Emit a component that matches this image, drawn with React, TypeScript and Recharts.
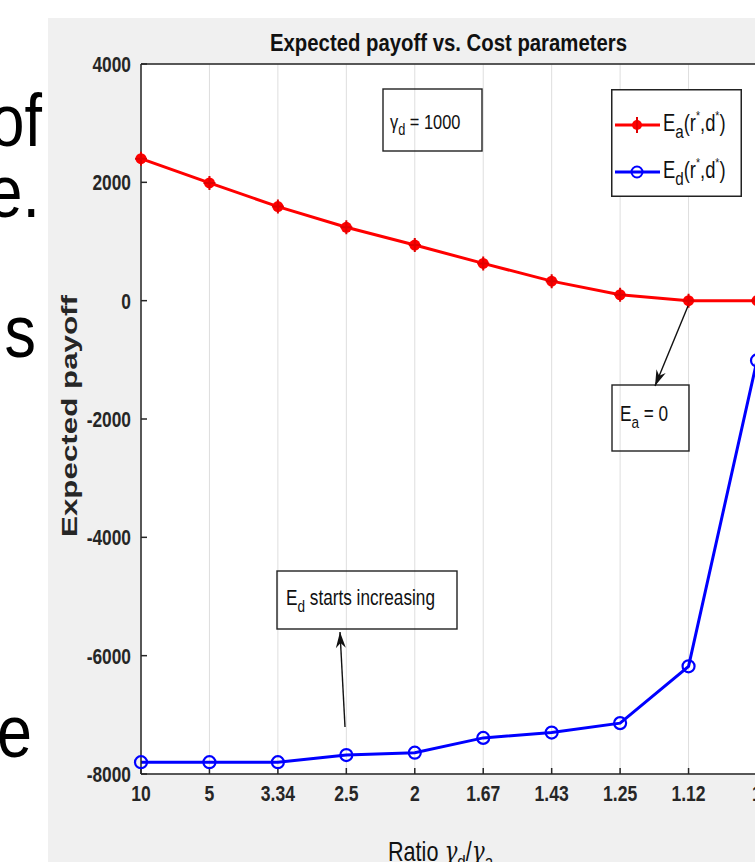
import React from "react";
import {
  LineChart,
  Line,
  XAxis,
  YAxis,
  CartesianGrid,
  Legend,
} from "recharts";

// values
const ratios = ["10", "5", "3.34", "2.5", "2", "1.67", "1.43", "1.25", "1.12", "1"];
const attackerPayoff = [2400, 1990, 1590, 1240, 940, 630, 330, 100, 0, 0];
const defenderPayoff = [-7800, -7800, -7800, -7680, -7640, -7390, -7300, -7140, -6180, -1010];
const yTicks = [-8000, -6000, -4000, -2000, 0, 2000, 4000];

const data = ratios.map((ratio, i) => ({
  ratio,
  ea: attackerPayoff[i],
  ed: defenderPayoff[i],
}));

const FONT = "'Liberation Sans', Arial, sans-serif";
const AXIS = "#262626";

const XTick = ({ x, y, payload }: any) => (
  <g transform={`translate(${x},${y + 27}) scale(0.78,1)`}>
    <text textAnchor="middle" fill={AXIS} fontSize={22.5} fontWeight={700} fontFamily={FONT}>
      {payload.value}
    </text>
  </g>
);

const YTick = ({ x, y, payload }: any) => (
  <g transform={`translate(${x - 10},${y + 8}) scale(0.77,1)`}>
    <text textAnchor="end" fill={AXIS} fontSize={22.5} fontWeight={700} fontFamily={FONT}>
      {payload.value}
    </text>
  </g>
);

const RedDot = ({ cx, cy }: any) => (
  <g>
    <circle cx={cx} cy={cy} r={5.5} fill="#ff0000" />
    <path
      d={`M${cx - 6},${cy} H${cx + 6} M${cx},${cy - 7} V${cy + 7}`}
      stroke="#e00000"
      strokeWidth={2}
    />
  </g>
);

const BlueDot = ({ cx, cy }: any) => (
  <circle cx={cx} cy={cy} r={6} fill="none" stroke="#0000ff" strokeWidth={2.2} />
);

const LegendBox = () => (
  <svg width={131} height={108} style={{ display: "block" }}>
    <rect x={0.75} y={0.75} width={129.5} height={106.5} fill="#fff" stroke="#222" strokeWidth={1.5} />
    <line x1={4} y1={36} x2={49} y2={36} stroke="#ff0000" strokeWidth={3} />
    <circle cx={26} cy={36} r={5} fill="#ff0000" />
    <path d="M26,28 V44" stroke="#e00000" strokeWidth={2} />
    <line x1={4} y1={83} x2={49} y2={83} stroke="#0000ff" strokeWidth={3} />
    <circle cx={26} cy={83} r={5.5} fill="none" stroke="#0000ff" strokeWidth={2} />
    {[
      { y: 42, sub: "a" },
      { y: 89, sub: "d" },
    ].map((e) => (
      <g key={e.sub} transform={`translate(52,${e.y}) scale(0.8,1)`}>
        <text fontFamily={FONT} fontSize={23} fill="#111">
          E<tspan fontSize={19} dy={7}>{e.sub}</tspan>
          <tspan dy={-7}>(r</tspan>
          <tspan fontSize={13} dy={-11}>*</tspan>
          <tspan dy={11}>,d</tspan>
          <tspan fontSize={13} dy={-11}>*</tspan>
          <tspan dy={11}>)</tspan>
        </text>
      </g>
    ))}
  </svg>
);

const arrowHead = (x1: number, y1: number, x2: number, y2: number) => {
  const dx = x2 - x1;
  const dy = y2 - y1;
  const len = Math.hypot(dx, dy);
  const ux = dx / len;
  const uy = dy / len;
  const bx = x2 - ux * 16;
  const by = y2 - uy * 16;
  const px = -uy * 5;
  const py = ux * 5;
  const mx = x2 - ux * 11;
  const my = y2 - uy * 11;
  return `${x2},${y2} ${bx + px},${by + py} ${mx},${my} ${bx - px},${by - py}`;
};

const Arrow = ({ x1, y1, x2, y2 }: { x1: number; y1: number; x2: number; y2: number }) => (
  <g>
    <line x1={x1} y1={y1} x2={x2} y2={y2} stroke="#111" strokeWidth={1.4} />
    <polygon points={arrowHead(x1, y1, x2, y2)} fill="#111" />
  </g>
);

const Overlay = () => (
  <svg
    width={755}
    height={862}
    style={{ position: "absolute", left: 0, top: 0, pointerEvents: "none" }}
  >
    {/* cut-off slide text */}
    {[
      { t: "of", x: 42, y: 146 },
      { t: "e.", x: 40, y: 217 },
      { t: "s", x: 36, y: 357 },
      { t: "e", x: 32, y: 757 },
    ].map((w) => (
      <g key={w.t + w.y} transform={`translate(${w.x},${w.y}) scale(0.85,1)`}>
        <text textAnchor="end" fontFamily={FONT} fontSize={74} fill="#000">
          {w.t}
        </text>
      </g>
    ))}

    <text
      x={270}
      y={51}
      textLength={357}
      lengthAdjust="spacingAndGlyphs"
      fontFamily={FONT}
      fontWeight={700}
      fontSize={23}
      fill="#111"
    >
      Expected payoff vs. Cost parameters
    </text>

    <text
      transform="translate(77,537) rotate(-90)"
      textLength={242}
      lengthAdjust="spacingAndGlyphs"
      fontFamily={FONT}
      fontWeight={700}
      fontSize={22}
      fill={AXIS}
    >
      Expected payoff
    </text>

    <g transform="translate(388,861) scale(0.8,1)">
      <text fontFamily={FONT} fontSize={27} fill="#111">
        Ratio <tspan fontFamily="'DejaVu Serif', serif" fontStyle="italic">γ</tspan>
        <tspan fontSize={19} dy={7}>d</tspan>
        <tspan dy={-7}>/</tspan>
        <tspan fontFamily="'DejaVu Serif', serif" fontStyle="italic">γ</tspan>
        <tspan fontSize={19} dy={7}>a</tspan>
      </text>
    </g>

    {/* gamma_d box */}
    <rect x={383} y={89} width={99} height={62} fill="none" stroke="#222" strokeWidth={1.4} />
    <g transform="translate(390,129) scale(0.8,1)">
      <text fontFamily={FONT} fontSize={20.5} fill="#111">
        γ<tspan fontSize={16} dy={6}>d</tspan>
        <tspan dy={-6}> = 1000</tspan>
      </text>
    </g>

    {/* E_a = 0 box */}
    <rect x={612} y={385} width={77} height={66} fill="none" stroke="#222" strokeWidth={1.4} />
    <g transform="translate(620,421) scale(0.8,1)">
      <text fontFamily={FONT} fontSize={21.5} fill="#111">
        E<tspan fontSize={17} dy={7}>a</tspan>
        <tspan dy={-7}> = 0</tspan>
      </text>
    </g>
    <Arrow x1={688} y1={306} x2={655} y2={386} />

    {/* E_d starts increasing box */}
    <rect x={277} y={571} width={180} height={58} fill="none" stroke="#222" strokeWidth={1.4} />
    <g transform="translate(286,605) scale(0.8,1)">
      <text fontFamily={FONT} fontSize={21.5} fill="#111">
        E<tspan fontSize={17} dy={7}>d</tspan>
        <tspan dy={-7}> starts increasing</tspan>
      </text>
    </g>
    <Arrow x1={345} y1={727} x2={340} y2={632} />
  </svg>
);

export default function App() {
  return (
    <div
      style={{
        position: "fixed",
        left: 0,
        top: 0,
        width: 755,
        height: 862,
        overflow: "hidden",
        background: "#ffffff",
      }}
    >
      <div
        style={{
          position: "absolute",
          left: 48,
          top: 18,
          right: 0,
          bottom: 0,
          background: "#f0f0f0",
        }}
      />
      <div style={{ position: "absolute", left: 0, top: 0 }}>
        <LineChart
          width={800}
          height={862}
          data={data}
          margin={{ top: 63, right: 33, bottom: 58, left: 81 }}
        >
          <CartesianGrid stroke="#dedede" fill="#ffffff" fillOpacity={1} />
          <XAxis
            dataKey="ratio"
            xAxisId="bottom"
            height={30}
            stroke={AXIS}
            strokeWidth={1.5}
            tickSize={-6}
            tickMargin={6}
            interval={0}
            tick={<XTick />}
          />
          <XAxis
            dataKey="ratio"
            xAxisId="top"
            orientation="top"
            height={1}
            stroke={AXIS}
            strokeWidth={1.5}
            tickSize={-6}
            interval={0}
            tick={false}
          />
          <YAxis
            yAxisId="left"
            width={60}
            domain={[-8000, 4000]}
            ticks={yTicks}
            stroke={AXIS}
            strokeWidth={1.5}
            tickSize={-6}
            tickMargin={6}
            interval={0}
            tick={<YTick />}
          />
          <YAxis
            yAxisId="right"
            orientation="right"
            width={10}
            domain={[-8000, 4000]}
            ticks={yTicks}
            stroke={AXIS}
            strokeWidth={1.5}
            tickSize={-6}
            interval={0}
            tick={false}
          />
          <Legend
            layout="vertical"
            align="center"
            verticalAlign="middle"
            wrapperStyle={{ position: "absolute", left: 611, top: 89, width: 131, height: 108 }}
            content={() => <LegendBox />}
          />
          <Line
            xAxisId="bottom"
            yAxisId="left"
            type="linear"
            dataKey="ea"
            name="Ea(r*,d*)"
            stroke="#ff0000"
            strokeWidth={3}
            dot={<RedDot />}
            isAnimationActive={false}
          />
          <Line
            xAxisId="bottom"
            yAxisId="left"
            type="linear"
            dataKey="ed"
            name="Ed(r*,d*)"
            stroke="#0000ff"
            strokeWidth={3}
            dot={<BlueDot />}
            isAnimationActive={false}
          />
        </LineChart>
      </div>
      <Overlay />
    </div>
  );
}
